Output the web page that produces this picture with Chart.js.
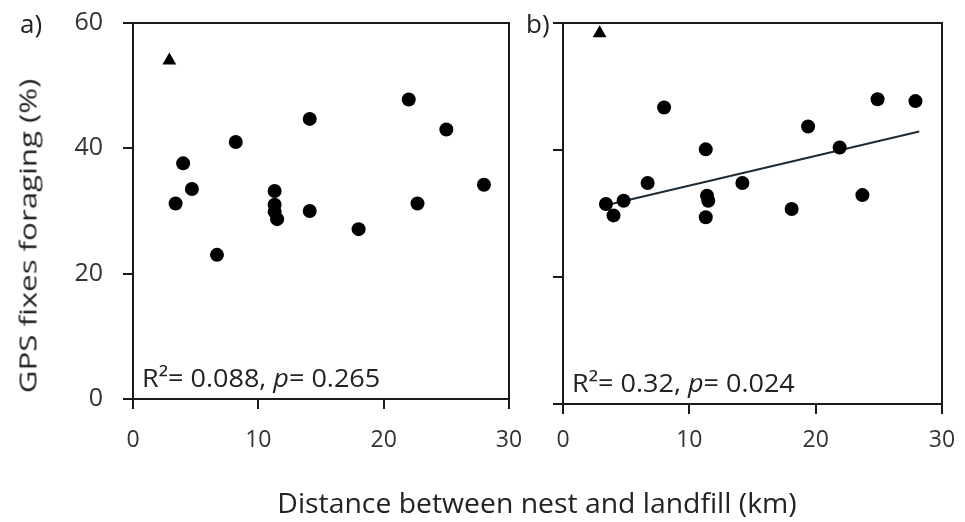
<!DOCTYPE html>
<html>
<head>
<meta charset="utf-8">
<script src="https://cdn.jsdelivr.net/npm/chart.js@4.4.1/dist/chart.umd.min.js"></script>
<style>
  body { margin: 0; background: #fff; }
  #wrap { position: relative; width: 965px; height: 522px; font-family: "Open Sans", sans-serif; color: #222; overflow: hidden; }
  #chartA { position: absolute; left: 0; top: 0; }
  #chartB { position: absolute; left: 520px; top: 0; }
  #xtitle { position: absolute; left: 537px; top: 502px; transform: translate(-50%, -50%) scaleX(1.05); white-space: nowrap; font-size: 27px; }
  #ytitle { position: absolute; left: 27px; top: 236px; transform: translate(-50%, -50%) rotate(-90deg) scaleX(1.3); white-space: nowrap; font-size: 24px; }
</style>
</head>
<body>
<div id="wrap">
  <canvas id="chartA" width="545" height="522"></canvas>
  <canvas id="chartB" width="445" height="522"></canvas>
  <div id="ytitle">GPS fixes foraging (%)</div>
  <div id="xtitle">Distance between nest and landfill (km)</div>
</div>
<script>
// panel a) distance (km) vs GPS fixes foraging (%)
const distA = [3.4, 4.0, 4.7, 6.7, 8.2, 11.3, 11.3, 11.3, 11.5, 14.1, 14.1, 18.0, 22.0, 22.7, 25.0, 28.0];
const foragingA = [31.2, 37.6, 33.5, 23.0, 41.0, 33.2, 31.0, 29.9, 28.7, 44.7, 30.0, 27.1, 47.8, 31.2, 43.0, 34.2];
const outlierA = { x: 2.9, y: 54.0 };

// panel b)
const distB = [3.4, 4.0, 4.8, 6.7, 8.0, 11.3, 11.4, 11.5, 11.3, 14.2, 18.1, 19.4, 21.9, 23.7, 24.9, 27.9];
const foragingB = [31.5, 29.7, 32.0, 34.8, 46.7, 40.1, 32.8, 32.0, 29.4, 34.8, 30.7, 43.7, 40.4, 32.9, 48.0, 47.7];
const outlierB = { x: 2.9, y: 58.4 };
const trendB = [{ x: 3.4, y: 31.3 }, { x: 28.2, y: 42.9 }];

const xTicks = [0, 10, 20, 30];
const yTicks = [0, 20, 40, 60];
const statsA = ['R²= 0.088, ', 'p', '= 0.265'];
const statsB = ['R²= 0.32, ', 'p', '= 0.024'];

const FONT = '"Open Sans", sans-serif';
const INK = '#1a1a1a';

function toPoints(xs, ys) {
    return xs.map((x, i) => ({ x: x, y: ys[i] }));
}

// box around the plot area, panel letter and the stats line
function panelPlugin(letter, letterX, stats) {
    return {
        id: 'panel' + letter,
        afterDraw(chart) {
            const ctx = chart.ctx;
            const a = chart.chartArea;
            ctx.save();
            ctx.strokeStyle = INK;
            ctx.lineWidth = 2;
            ctx.strokeRect(a.left, a.top, a.right - a.left, a.bottom - a.top);
            ctx.fillStyle = '#222';
            ctx.font = '26px ' + FONT;
            ctx.textBaseline = 'middle';
            ctx.fillText(letter, letterX, 26);
            // stats, with italic p
            ctx.textBaseline = 'alphabetic';
            ctx.translate(a.left + 9, a.bottom - 12);
            ctx.scale(1.08, 1);
            let x = 0;
            stats.forEach((s, i) => {
                ctx.font = (i === 1 ? 'italic ' : '') + '25px ' + FONT;
                ctx.fillText(s, x, 0);
                x += ctx.measureText(s).width;
            });
            ctx.restore();
        }
    };
}

function makeOptions(showYLabels, leftWidth, bottomHeight, rightPad, xPad) {
    return {
        responsive: false,
        animation: false,
        layout: { padding: { top: 23, right: rightPad, left: 0, bottom: 0 } },
        plugins: { legend: { display: false }, tooltip: { enabled: false } },
        scales: {
            x: {
                type: 'linear',
                min: 0, max: 30,
                afterBuildTicks: s => { s.ticks = xTicks.map(v => ({ value: v })); },
                afterFit: s => { s.height = bottomHeight; s.paddingLeft = 0; s.paddingRight = 0; },
                grid: { drawOnChartArea: false, drawTicks: true, tickLength: 10, color: INK, lineWidth: 2 },
                border: { display: true, color: INK, width: 2 },
                ticks: { color: '#333', font: { family: FONT, size: 23 }, padding: xPad, maxRotation: 0 }
            },
            y: {
                type: 'linear',
                min: 0, max: 60,
                afterBuildTicks: s => { s.ticks = yTicks.map(v => ({ value: v })); },
                afterFit: s => { s.width = leftWidth; s.paddingTop = 0; s.paddingBottom = 0; },
                grid: { drawOnChartArea: false, drawTicks: true, tickLength: 10, color: INK, lineWidth: 2 },
                border: { display: true, color: INK, width: 2 },
                ticks: { display: showYLabels, color: '#333', font: { family: FONT, size: 25 }, padding: 20 }
            }
        }
    };
}

const dotStyle = {
    backgroundColor: '#000',
    borderColor: '#000',
    pointRadius: 7,
    pointBorderWidth: 0,
    showLine: false
};
const triStyle = {
    backgroundColor: '#000',
    borderColor: '#000',
    pointStyle: 'triangle',
    pointRadius: 8,
    pointBorderWidth: 0,
    showLine: false
};

new Chart(document.getElementById('chartA'), {
    type: 'scatter',
    data: {
        datasets: [
            Object.assign({ data: toPoints(distA, foragingA) }, dotStyle),
            Object.assign({ data: [outlierA] }, triStyle)
        ]
    },
    options: makeOptions(true, 133, 123, 36, 18),
    plugins: [panelPlugin('a)', 20, statsA)]
});

new Chart(document.getElementById('chartB'), {
    type: 'scatter',
    data: {
        datasets: [
            Object.assign({ data: toPoints(distB, foragingB) }, dotStyle),
            Object.assign({ data: [outlierB] }, triStyle),
            {
                data: trendB,
                showLine: true,
                borderColor: '#1d2b36',
                borderWidth: 2,
                pointRadius: 0
            }
        ]
    },
    options: makeOptions(false, 43, 118, 23, 13),
    plugins: [panelPlugin('b)', 6, statsB)]
});
</script>
</body>
</html>
